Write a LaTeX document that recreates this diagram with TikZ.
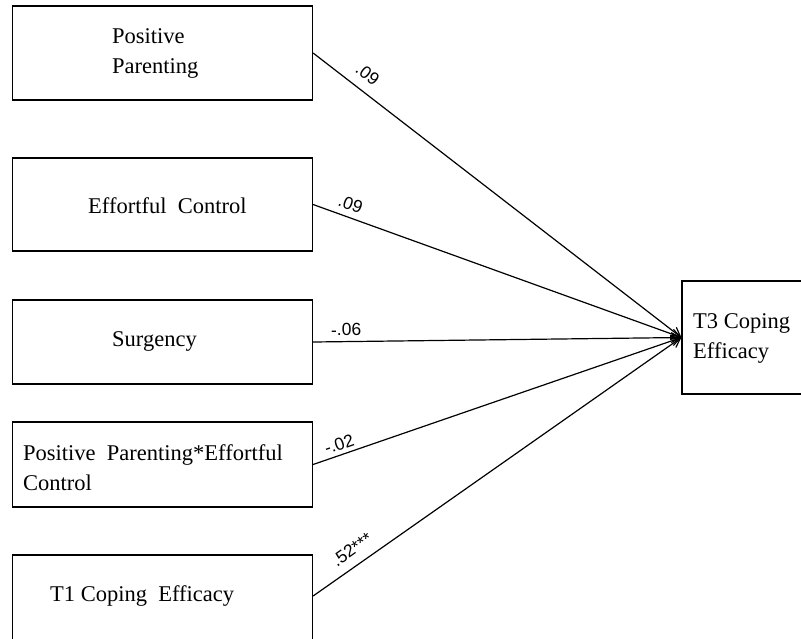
\documentclass[tikz,border=0pt]{standalone}
\usepackage{fontspec}
\setmainfont{Liberation Serif}
\newfontfamily\coeffont{Liberation Sans}
\usetikzlibrary{arrows.meta}
\begin{document}
\begin{tikzpicture}[x=1pt,y=-1pt,
  varbox/.style={draw=black,line width=1.2pt,minimum width=300pt,inner sep=0pt},
  vartext/.style={font=\fontsize{22.5}{30}\selectfont,inner sep=0pt,align=left,anchor=west},
  path/.style={line width=1.2pt,-{Straight Barb[length=9pt,width=10pt,line width=1.2pt]}},
  coef/.style={font=\coeffont\fontsize{17.5}{20}\selectfont,sloped,above,inner sep=0pt}]
  \useasboundingbox (0,0) rectangle (801,638);
  \clip (0,0) rectangle (801,638);

  % predictor boxes
  \node[varbox,minimum height=94pt] (pp)  at (162.5,53)    {};
  \node[varbox,minimum height=93pt] (ec)  at (162.5,204.5) {};
  \node[varbox,minimum height=84pt] (sur) at (162.5,342)   {};
  \node[varbox,minimum height=85pt] (int) at (162.5,464.5) {};
  \node[varbox,minimum height=90pt] (t1)  at (162.5,600)   {};
  % outcome box
  \node[varbox,minimum width=160pt,minimum height=113pt] (t3) at (762,337.5) {};

  % box texts
  \node[vartext] (ppt)  at (112,53)  {Positive\\Parenting};
  \node[vartext] (ect)  at (88,206)  {Effortful\ \ Control};
  \node[vartext] (surt) at (112,341) {Surgency};
  \node[vartext] (intt) at (23,468)  {Positive\ \ Parenting*Effortful\\Control};
  \node[vartext] (t1t)  at (50,596)  {T1 Coping\ \ Efficacy};
  \node[vartext] (t3t)  at (693,338) {T3 Coping\\Efficacy};

  % paths with coefficients
  \draw[path] (pp.east)  -- node[coef,pos=0.12,yshift=10pt] {.09} (t3.west);
  \draw[path] (ec.east)  -- node[coef,pos=0.09,yshift=6pt] {.09} (t3.west);
  \draw[path] (sur.east) -- node[coef,pos=0.09,yshift=5pt] {-.06} (t3.west);
  \draw[path] (int.east) -- node[coef,pos=0.08,yshift=4pt] {-.02} (t3.west);
  \draw[path] ([yshift=4pt]t1.east) -- node[coef,pos=0.13,yshift=9pt] {.52***} (t3.west);
\end{tikzpicture}
\end{document}
